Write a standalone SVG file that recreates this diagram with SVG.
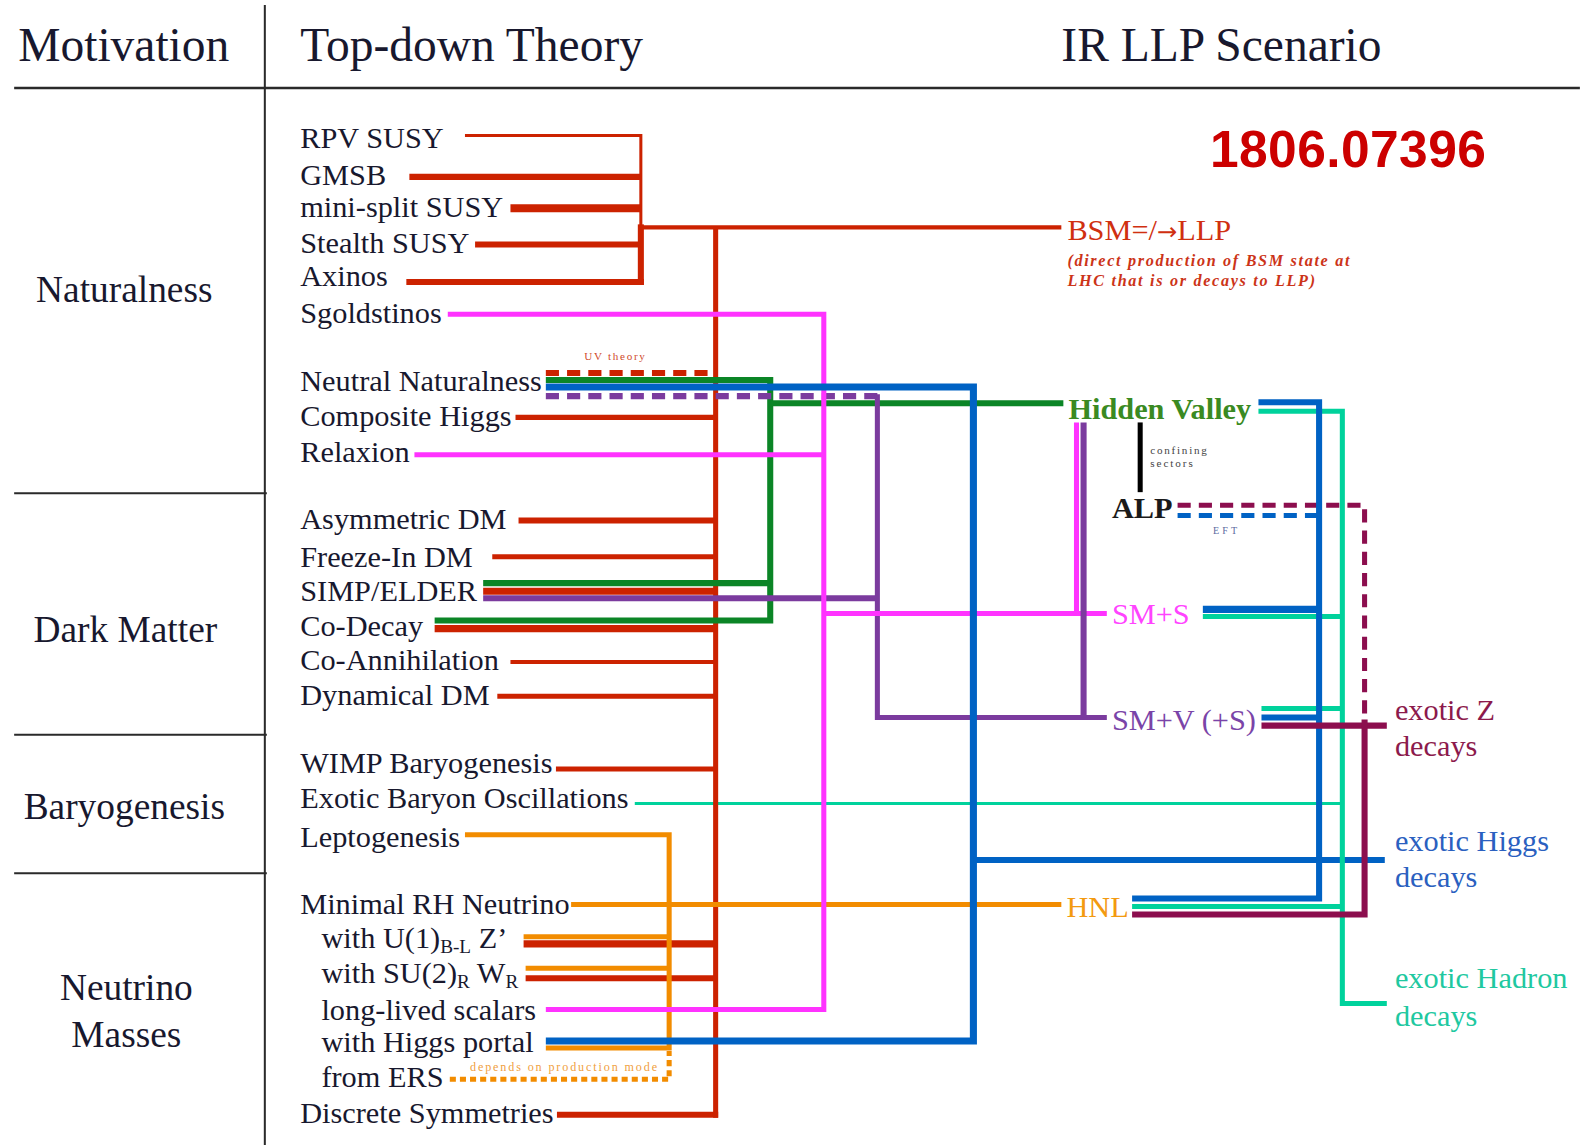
<svg xmlns="http://www.w3.org/2000/svg" width="1585" height="1145" viewBox="0 0 1585 1145">
<style>
text{font-family:"Liberation Serif","Times New Roman",serif;fill:#18182e}
.hd{font-size:47px}
.cat{font-size:37px;text-anchor:middle}
.it{font-size:30px}
.sub{font-size:19px}
.rt{font-size:30px}
.tiny{font-size:12px}
.ln path{fill:none}
.r{stroke:#cc2200}
.g{stroke:#0b8526}
.b{stroke:#0062c4}
.p{stroke:#7b3b9e}
.m{stroke:#ff33ff}
.t{stroke:#00d29c}
.o{stroke:#f28c00}
.mr{stroke:#8c0e4e}
.k{stroke:#000}
.dash{stroke-dasharray:13 8}
.dot{stroke-dasharray:6 4}
.grid{stroke:#2a2a2a;fill:none}
</style>
<rect width="1585" height="1145" fill="#fff"/>
<g transform="scale(1.0108,1.0106)">
<g id="grid">
<path class="grid" stroke-width="2.5" d="M14,87 H1563"/>
<path class="grid" stroke-width="2" d="M262,5 V1133"/>
<path class="grid" stroke-width="2" d="M14,488 H264 M14,727 H264 M14,864 H264"/>
</g>
<g id="connectors" class="ln">
<path class="t" stroke-width="3" d="M628,795 H1328"/>
<path class="r" stroke-width="3" d="M460,134 H634 V226"/>
<path class="r" stroke-width="6" d="M634,222 V282"/>
<path class="r" stroke-width="6" d="M405,175 H634"/>
<path class="r" stroke-width="8" d="M505,206 H634"/>
<path class="r" stroke-width="6" d="M470,242 H634"/>
<path class="r" stroke-width="6" d="M402,279 H637"/>
<path class="r" stroke-width="4" d="M634,225 H1050"/>
<path class="r" stroke-width="5" d="M708,224 V1106"/>
<path class="r" stroke-width="5" d="M510,413 H708"/>
<path class="r" stroke-width="6" d="M513,515 H708"/>
<path class="r" stroke-width="5" d="M487,551 H708"/>
<path class="r" stroke-width="7" d="M478,585 H708"/>
<path class="r" stroke-width="7" d="M430,622 H708"/>
<path class="r" stroke-width="4" d="M505,655 H708"/>
<path class="r" stroke-width="5" d="M492,689 H708"/>
<path class="r" stroke-width="5" d="M550,761 H708"/>
<path class="r" stroke-width="7" d="M518,934 H708"/>
<path class="r" stroke-width="6" d="M520,968 H708"/>
<path class="r" stroke-width="6" d="M551,1103 H710.5"/>
<path class="r dash" stroke-width="6" d="M540,369 H700"/>
<path class="o" stroke-width="5" d="M460,826 H662 V1037 H540"/>
<path class="o" stroke-width="5" d="M565,895 H1050"/>
<path class="o" stroke-width="5" d="M518,927 H662"/>
<path class="o" stroke-width="5" d="M520,958 H662"/>
<path class="o dot" stroke-width="5" d="M445,1068 H662 V1040"/>
<path class="g" stroke-width="6" d="M540,376 H762 V614 H430"/>
<path class="g" stroke-width="6" d="M478,577 H762"/>
<path class="g" stroke-width="6" d="M762,399 H1052"/>
<path class="p dash" stroke-width="6" d="M540,392 H868"/>
<path class="p" stroke-width="5" d="M868,390 V710 H1095"/>
<path class="p" stroke-width="6" d="M478,592 H868"/>
<path class="m" stroke-width="5" d="M443,311 H815 V999 H540"/>
<path class="m" stroke-width="5" d="M410,450 H815"/>
<path class="m" stroke-width="5" d="M815,607 H1095"/>
<path class="m" stroke-width="5" d="M1065,418 V607"/>
<path class="p" stroke-width="6" d="M1072,418 V710"/>
<path class="b" stroke-width="7" d="M540,383 H963 V1030 H540"/>
<path class="b" stroke-width="6" d="M963,851 H1370"/>
<path class="k" stroke-width="5" d="M1128,418 V487"/>
<path class="mr dash" stroke-width="5" d="M1165,500 H1350 V712"/>
<path class="b dash" stroke-width="5" d="M1165,510 H1305"/>
<path class="t" stroke-width="5" d="M1245,407 H1328 V993 H1372"/>
<path class="t" stroke-width="5" d="M1190,610 H1328"/>
<path class="t" stroke-width="5" d="M1248,701 H1328"/>
<path class="t" stroke-width="5" d="M1120,897 H1328"/>
<path class="b" stroke-width="6" d="M1245,398 H1305 V889 H1120"/>
<path class="b" stroke-width="7" d="M1190,603 H1305"/>
<path class="b" stroke-width="6" d="M1248,710 H1305"/>
<path class="mr" stroke-width="6" d="M1248,718 H1372"/>
<path class="mr" stroke-width="6" d="M1350,712 V905 H1120"/>
</g>
<g id="headers">
<g id="h-motivation"><text class="hd" x="18" y="60">Motivation</text></g>
<g id="h-topdown"><text class="hd" x="297" y="60">Top-down Theory</text></g>
<g id="h-ir"><text class="hd" x="1050" y="60">IR LLP Scenario</text></g>
</g>
<g id="categories">
<g id="c-naturalness"><text class="cat" x="123" y="299">Naturalness</text></g>
<g id="c-darkmatter"><text class="cat" x="124" y="635">Dark Matter</text></g>
<g id="c-baryogenesis"><text class="cat" x="123" y="810">Baryogenesis</text></g>
<g id="c-neutrino"><text class="cat" x="125" y="990">Neutrino</text><text class="cat" x="125" y="1036">Masses</text></g>
</g>
<g id="theories">
<g id="n-rpv"><text class="it" x="297" y="146">RPV SUSY</text></g>
<g id="n-gmsb"><text class="it" x="297" y="183">GMSB</text></g>
<g id="n-minisplit"><text class="it" x="297" y="215">mini-split SUSY</text></g>
<g id="n-stealth"><text class="it" x="297" y="250">Stealth SUSY</text></g>
<g id="n-axinos"><text class="it" x="297" y="283">Axinos</text></g>
<g id="n-sgoldstinos"><text class="it" x="297" y="320">Sgoldstinos</text></g>
<g id="n-neutralnat"><text class="it" x="297" y="387">Neutral Naturalness</text></g>
<g id="n-composite"><text class="it" x="297" y="422">Composite Higgs</text></g>
<g id="n-relaxion"><text class="it" x="297" y="457">Relaxion</text></g>
<g id="n-asym"><text class="it" x="297" y="523">Asymmetric DM</text></g>
<g id="n-freezein"><text class="it" x="297" y="561">Freeze-In DM</text></g>
<g id="n-simp"><text class="it" x="297" y="595">SIMP/ELDER</text></g>
<g id="n-codecay"><text class="it" x="297" y="629">Co-Decay</text></g>
<g id="n-coann"><text class="it" x="297" y="663">Co-Annihilation</text></g>
<g id="n-dyn"><text class="it" x="297" y="698">Dynamical DM</text></g>
<g id="n-wimp"><text class="it" x="297" y="765">WIMP Baryogenesis</text></g>
<g id="n-ebo"><text class="it" x="297" y="800">Exotic Baryon Oscillations</text></g>
<g id="n-lepto"><text class="it" x="297" y="838">Leptogenesis</text></g>
<g id="n-minrh"><text class="it" x="297" y="904">Minimal RH Neutrino</text></g>
<g id="n-u1"><text class="it" x="318" y="938">with U(1)<tspan class="sub" dy="5">B-L</tspan><tspan dy="-5"> Z’</tspan></text></g>
<g id="n-su2"><text class="it" x="318" y="973">with SU(2)<tspan class="sub" dy="5">R</tspan><tspan dy="-5"> W</tspan><tspan class="sub" dy="5">R</tspan></text></g>
<g id="n-llscalars"><text class="it" x="318" y="1009">long-lived scalars</text></g>
<g id="n-higgsportal"><text class="it" x="318" y="1041">with Higgs portal</text></g>
<g id="n-ers"><text class="it" x="318" y="1076">from ERS</text></g>
<g id="n-discrete"><text class="it" x="297" y="1111">Discrete Symmetries</text></g>
</g>
<g id="notes">
<g id="l-uv"><text class="tiny" x="578" y="356" textLength="60" style="fill:#d04a2a;font-size:11px">UV theory</text></g>
<g id="l-depends"><text class="tiny" x="465" y="1060" textLength="185" style="fill:#f0a040">depends on production mode</text></g>
<g id="l-confining"><text class="tiny" x="1138" y="449" textLength="56" style="font-size:11px;fill:#444">confining</text><text class="tiny" x="1138" y="462" textLength="42" style="font-size:11px;fill:#444">sectors</text></g>
<g id="l-eft"><text class="tiny" x="1200" y="528" textLength="24" style="font-size:10px;fill:#5a6aa0">EFT</text></g>
<g id="l-arxiv"><text x="1197" y="165" textLength="273" style="font-family:'Liberation Sans',Arial,sans-serif;font-weight:bold;font-size:51px;fill:#cc0000">1806.07396</text></g>
</g>
<g id="scenarios">
<g id="s-bsm"><text class="rt" x="1056" y="237" style="fill:#d03010">BSM=/<tspan style="font-family:'DejaVu Sans',sans-serif;font-size:24px">→</tspan>LLP</text>
<text x="1056" y="263" textLength="279" style="font-size:16px;font-style:italic;font-weight:bold;fill:#cc3418">(direct production of BSM state at</text>
<text x="1056" y="283" textLength="245" style="font-size:16px;font-style:italic;font-weight:bold;fill:#cc3418">LHC that is or decays to LLP)</text></g>
<g id="s-hv"><text class="rt" x="1057" y="415" style="font-weight:bold;fill:#3a8a22">Hidden Valley</text></g>
<g id="s-alp"><text class="rt" x="1100" y="513" style="font-weight:bold;fill:#1a1a1a">ALP</text></g>
<g id="s-sms"><text class="rt" x="1100" y="617" style="fill:#ff44ff">SM+S</text></g>
<g id="s-smv"><text class="rt" x="1100" y="722" style="fill:#7a44a8">SM+V (+S)</text></g>
<g id="s-hnl"><text class="rt" x="1055" y="907" style="fill:#f39a10">HNL</text></g>
</g>
<g id="signatures">
<g id="o-z"><text class="rt" x="1380" y="712" style="fill:#8c1a4c">exotic Z</text><text class="rt" x="1380" y="748" style="fill:#8c1a4c">decays</text></g>
<g id="o-higgs"><text class="rt" x="1380" y="842" style="fill:#2a60c0">exotic Higgs</text><text class="rt" x="1380" y="878" style="fill:#2a60c0">decays</text></g>
<g id="o-hadron"><text class="rt" x="1380" y="978" style="fill:#20c8a0">exotic Hadron</text><text class="rt" x="1380" y="1015" style="fill:#20c8a0">decays</text></g>
</g>
</g>
</svg>
